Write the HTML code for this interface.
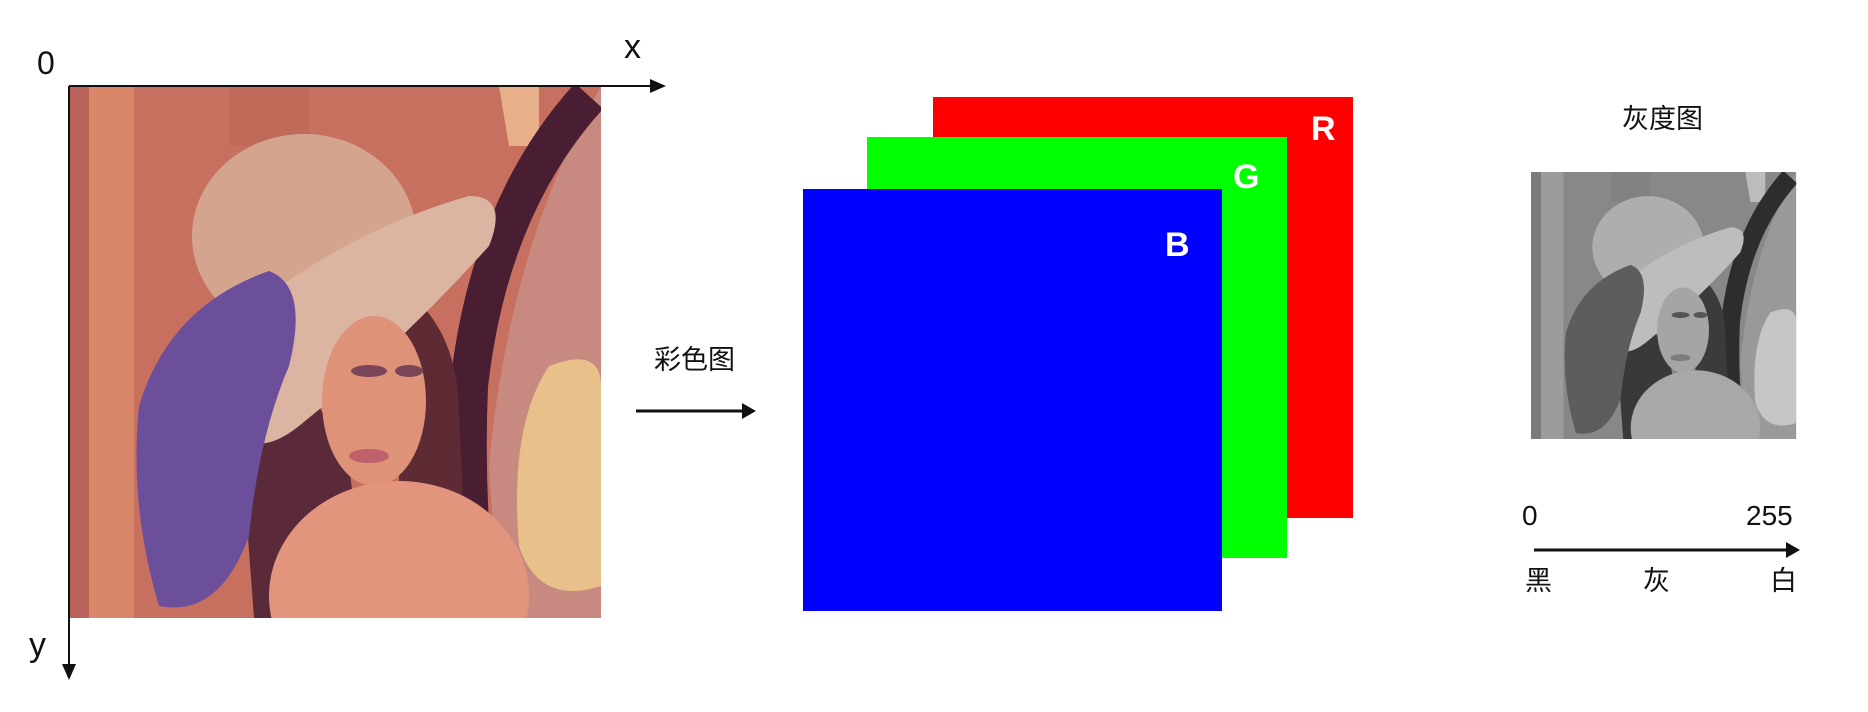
<!DOCTYPE html>
<html><head><meta charset="utf-8"><style>
html,body{margin:0;padding:0;background:#fff;}
#root{position:relative;width:1868px;height:712px;overflow:hidden;background:#fff;font-family:"Liberation Sans","Noto Sans CJK SC",sans-serif;}
.t{position:absolute;color:#111;line-height:1;white-space:nowrap;}
.cn{font-size:27px;}
.lbl{position:absolute;color:#fff;font-weight:bold;font-size:34px;line-height:1;}
</style></head><body>
<div id="root">
<svg width="1868" height="712" style="position:absolute;left:0;top:0">
 <defs>
  <filter id="gray"><feColorMatrix type="saturate" values="0"/></filter>
  <clipPath id="clip"><rect x="0" y="0" width="532" height="532"/></clipPath>
  <g id="lena" clip-path="url(#clip)">
   <rect width="532" height="532" fill="#c8705f"/>
   <rect x="20" y="0" width="45" height="532" fill="#d88868"/>
   <rect x="0" y="0" width="20" height="532" fill="#b8625a"/>
   <rect x="160" y="0" width="80" height="60" fill="#c06a5a"/>
   <path d="M430 0 L470 0 L470 60 L440 60Z" fill="#e8b08a"/>
   <path d="M532 0 L532 532 L430 532 L420 380 Q440 160 532 0Z" fill="#c88a80"/>
   <path d="M520 10 Q420 120 400 300 Q395 420 410 532" stroke="#4a1e32" stroke-width="38" fill="none"/>
   <path d="M480 280 Q532 260 532 300 L532 500 Q470 520 450 460 Q440 340 480 280Z" fill="#e8c08a"/>
   <path d="M200 220 Q160 260 170 330 L185 532 L300 532 L280 380Z" fill="#5a2a3a"/>
   <path d="M330 200 Q390 240 390 330 L400 532 L330 532Z" fill="#5e2b34"/>
   <ellipse cx="235" cy="150" rx="112" ry="102" fill="#d4a48e"/>
   <path d="M150 250 Q260 150 400 110 Q440 110 420 160 Q330 260 230 340 Q180 380 150 330Z" fill="#dcb5a2"/>
   <path d="M70 320 Q100 220 200 185 Q240 200 220 280 Q190 350 180 450 Q150 532 90 520 Q60 420 70 320Z" fill="#6b4f9a"/>
   <ellipse cx="305" cy="315" rx="52" ry="85" fill="#de9278"/>
   <ellipse cx="300" cy="285" rx="18" ry="6" fill="#7a4558"/>
   <ellipse cx="340" cy="285" rx="14" ry="6" fill="#7a4558"/>
   <ellipse cx="300" cy="370" rx="20" ry="7" fill="#c0606a"/>
   <ellipse cx="330" cy="510" rx="130" ry="115" fill="#e2957c"/>
  </g>
 </defs>
 <g transform="translate(69,86)"><use href="#lena"/></g>
 <g transform="translate(1531,172) scale(0.4985,0.5019)" filter="url(#gray)"><use href="#lena"/></g>
 <line x1="69" y1="86" x2="655" y2="86" stroke="#111" stroke-width="2"/>
 <polygon points="666,86 650,79 650,93" fill="#111"/>
 <line x1="69" y1="86" x2="69" y2="668" stroke="#111" stroke-width="2"/>
 <polygon points="69,680 62,664 76,664" fill="#111"/>
 <rect x="933" y="97" width="420" height="421" fill="#ff0000"/>
 <rect x="867" y="137" width="420" height="421" fill="#00ff00"/>
 <rect x="803" y="189" width="419" height="422" fill="#0000ff"/>
 <line x1="636" y1="411" x2="744" y2="411" stroke="#111" stroke-width="3"/>
 <polygon points="756,411 742,403 742,419" fill="#111"/>
 <line x1="1534" y1="550" x2="1788" y2="550" stroke="#111" stroke-width="3"/>
 <polygon points="1800,550 1786,542 1786,558" fill="#111"/>
</svg>
<div class="t" style="left:37px;top:47px;font-size:32px">0</div>
<div class="t" style="left:624px;top:30px;font-size:34px">x</div>
<div class="t" style="left:29px;top:628px;font-size:34px">y</div>
<div class="lbl" style="left:1311px;top:112px">R</div>
<div class="lbl" style="left:1233px;top:160px">G</div>
<div class="lbl" style="left:1165px;top:228px">B</div>
<div class="t cn" style="left:654px;top:347px">彩色图</div>
<div class="t cn" style="left:1622px;top:106px">灰度图</div>
<div class="t" style="left:1522px;top:502px;font-size:28px">0</div>
<div class="t" style="left:1746px;top:502px;font-size:28px">255</div>
<div class="t cn" style="left:1525px;top:568px">黑</div>
<div class="t cn" style="left:1643px;top:568px">灰</div>
<div class="t cn" style="left:1770px;top:568px">白</div>
</div>
</body></html>
